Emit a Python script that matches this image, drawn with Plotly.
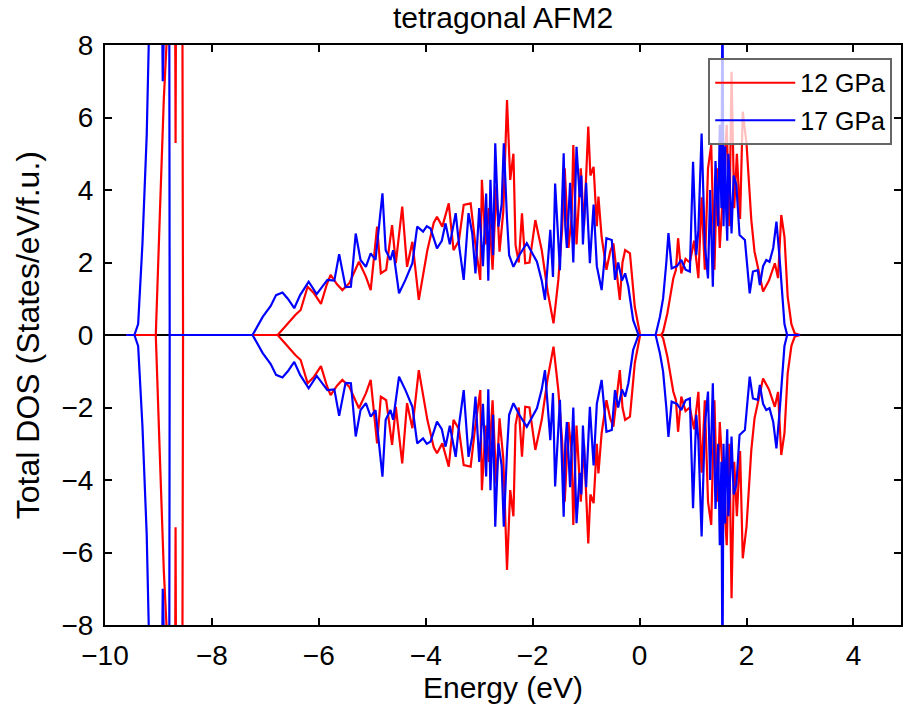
import plotly.graph_objects as go

# ---- data ----
# 17 GPa, spin-up total DOS
e17 = [-9.60, -9.45, -9.38, -9.30, -9.22, -9.17, -9.10, -9.00, -8.92, -8.88, -8.84, -8.80, -8.79,
       -8.60, -7.24, -7.05, -6.90, -6.80, -6.68, -6.58, -6.46, -6.35, -6.19, -6.04, -5.84, -5.71,
       -5.62, -5.50, -5.40, -5.31, -5.22, -5.12, -5.03, -4.94, -4.81, -4.75, -4.66, -4.61, -4.50,
       -4.38, -4.25, -4.16, -4.05, -3.98, -3.91, -3.79, -3.70, -3.63, -3.55, -3.44, -3.37, -3.29,
       -3.20, -3.13, -3.07, -3.00, -2.93, -2.87, -2.83, -2.79, -2.74, -2.70, -2.64, -2.58, -2.54,
       -2.48, -2.44, -2.36, -2.25, -2.11, -2.02, -1.92, -1.83, -1.77, -1.67, -1.62, -1.58, -1.49,
       -1.42, -1.39, -1.36, -1.30, -1.24, -1.18, -1.12, -1.09, -1.06, -1.00, -0.93, -0.86, -0.80,
       -0.71, -0.62, -0.52, -0.46, -0.40, -0.33, -0.27, -0.21, -0.12, -0.02, 0.30, 0.38, 0.44,
       0.50, 0.54, 0.60, 0.70, 0.78, 0.86, 0.94, 1.00, 1.06, 1.10, 1.16, 1.22, 1.28, 1.32, 1.37,
       1.42, 1.47, 1.50, 1.53, 1.55, 1.57, 1.60, 1.62, 1.64, 1.66, 1.68, 1.72, 1.76, 1.81, 1.87,
       1.97, 2.06, 2.12, 2.21, 2.25, 2.31, 2.37, 2.43, 2.50, 2.56, 2.62, 2.66, 2.71, 2.76, 3.00]
dos17 = [0.0, 0.0, 0.3, 2.5, 5.5, 8.0, 15.0, 20.0, 7.0, 12.0, 12.0, 12.0, 0.0,
         0.0, 0.0, 0.5, 0.8, 1.1, 1.17, 1.0, 0.74, 1.1, 1.47, 1.13, 1.52, 1.50,
         2.23, 1.32, 1.33, 2.80, 2.07, 1.88, 2.25, 2.07, 3.91, 2.34, 2.07, 2.34, 1.15,
         1.52, 1.98, 2.99, 2.85, 3.00, 2.94, 2.39, 2.60, 3.08, 2.50, 3.36, 2.40, 1.52,
         3.36, 2.80, 1.70, 3.50, 1.90, 3.90, 1.50, 4.28, 2.20, 5.29, 2.99, 3.60, 5.29,
         3.20, 2.20, 1.88, 2.20, 2.53, 2.30, 2.02, 1.50, 0.97, 2.90, 1.60, 4.18, 1.79,
         5.01, 3.00, 2.40, 4.20, 2.00, 5.19, 3.80, 4.40, 2.50, 4.20, 1.98, 3.60, 1.90,
         1.24, 2.67, 2.62, 1.52, 2.00, 1.50, 1.70, 1.33, 0.41, 0.0, 0.0, 0.50, 1.01,
         2.00, 2.81, 1.84, 1.90, 2.07, 1.80, 1.75, 4.78, 2.20, 2.90, 5.56, 2.50, 1.56, 4.00, 1.33,
         4.80, 3.00, 5.80, 3.50, 9.50, 3.00, 5.20, 3.40, 2.60, 5.00, 4.50, 2.80, 4.40, 4.14, 2.76,
         2.62, 1.15, 1.75, 1.79, 1.38, 1.90, 2.07, 2.02, 2.40, 3.13, 2.10, 1.20, 0.30, 0.0, 0.0]

# 12 GPa, spin-up total DOS
e12 = [-9.60, -9.15, -9.05, -8.97, -8.90, -8.85, -8.78, -8.70, -8.68, -8.66, -8.56, -8.54,
       -8.30, -6.77, -6.65, -6.55, -6.44, -6.34, -6.21, -6.09, -5.96, -5.85, -5.78, -5.66,
       -5.56, -5.43, -5.25, -5.12, -5.03, -4.91, -4.84, -4.74, -4.63, -4.56, -4.44, -4.35,
       -4.25, -4.13, -4.05, -3.97, -3.85, -3.79, -3.69, -3.57, -3.48, -3.38, -3.29, -3.16,
       -3.08, -2.98, -2.95, -2.88, -2.82, -2.75, -2.68, -2.62, -2.55, -2.48, -2.42, -2.36,
       -2.32, -2.26, -2.20, -2.14, -2.06, -1.95, -1.83, -1.72, -1.61, -1.52, -1.45, -1.40,
       -1.33, -1.27, -1.24, -1.18, -1.10, -1.04, -0.96, -0.92, -0.86, -0.80, -0.77, -0.71,
       -0.62, -0.55, -0.49, -0.43, -0.37, -0.32, -0.27, -0.18, -0.09, 0.01, 0.40, 0.44, 0.52,
       0.63, 0.68, 0.72, 0.78, 0.86, 0.94, 1.02, 1.10, 1.16, 1.22, 1.28, 1.34, 1.40, 1.45,
       1.50, 1.57, 1.63, 1.68, 1.72, 1.77, 1.82, 1.88, 1.93, 2.00, 2.06, 2.09, 2.15, 2.25,
       2.31, 2.42, 2.53, 2.59, 2.65, 2.71, 2.77, 2.84, 2.90, 3.00]
dos12 = [0.0, 0.0, 0.0, 3.5, 6.5, 8.0, 15.0, 15.0, 5.3, 15.0, 15.0, 0.0,
         0.0, 0.0, 0.20, 0.37, 0.55, 0.69, 1.33, 1.15, 0.86, 1.40, 1.66, 1.40,
         1.24, 1.43, 2.02, 1.61, 1.24, 2.99, 1.70, 1.80, 3.03, 1.98, 3.54, 1.88,
         2.57, 0.97, 1.60, 2.34, 3.10, 3.26, 2.99, 3.63, 2.34, 2.60, 3.59, 3.63,
         2.60, 1.52, 4.28, 2.50, 3.50, 1.80, 4.10, 2.30, 3.40, 6.48, 4.28, 5.00,
         2.48, 2.00, 3.36, 1.98, 2.00, 3.17, 2.34, 1.20, 0.32, 1.52, 2.90, 4.60,
         2.40, 3.30, 5.24, 2.50, 4.60, 3.00, 5.75, 4.40, 4.64, 3.00, 3.82, 2.71,
         1.80, 2.30, 2.53, 1.70, 0.97, 2.00, 2.34, 2.25, 0.78, 0.0, 0.0, 0.09, 0.60,
         1.56, 1.80, 2.67, 1.70, 2.10, 2.00, 2.60, 1.57, 3.80, 1.80, 4.60, 5.24, 1.80, 4.60,
         2.40, 4.20, 5.80, 3.00, 7.26, 3.50, 5.00, 3.20, 6.16, 5.29, 3.82, 3.17, 2.30, 1.60,
         1.20, 1.50, 1.98, 1.57, 3.31, 2.71, 1.06, 0.30, 0.05, 0.0]

series_names = ["12 GPa", "17 GPa"]
x_ticks = [-10, -8, -6, -4, -2, 0, 2, 4]
y_ticks = [-8, -6, -4, -2, 0, 2, 4, 6, 8]

RED = "#ff0000"
BLUE = "#0000ff"
FONT = "Liberation Sans, Arial, sans-serif"

fig = go.Figure()
for name, e, d, col in [(series_names[0], e12, dos12, RED), (series_names[1], e17, dos17, BLUE)]:
    fig.add_trace(go.Scatter(x=e, y=d, mode="lines", name=name, legendgroup=name,
                             line=dict(color=col, width=2.2)))
for name, e, d, col in [(series_names[0], e12, dos12, RED), (series_names[1], e17, dos17, BLUE)]:
    fig.add_trace(go.Scatter(x=e, y=[-v for v in d], mode="lines", name=name, legendgroup=name,
                             showlegend=False, line=dict(color=col, width=2.2)))

axis_common = dict(showline=True, linecolor="black", linewidth=2, mirror="ticks",
                   ticks="inside", ticklen=7, tickwidth=2, tickcolor="black",
                   showgrid=False, tickfont=dict(family=FONT, size=28, color="black"))

fig.update_layout(
    width=903, height=711,
    margin=dict(l=105, r=0, t=45, b=86),
    paper_bgcolor="white", plot_bgcolor="white",
    title=dict(text="tetragonal AFM2", x=0.5, xref="paper", xanchor="center",
               y=1 - 17 / 711, yref="container", yanchor="middle",
               font=dict(family=FONT, size=30, color="black")),
    xaxis=dict(range=[-10, 4.89], tickvals=x_ticks, zeroline=False, ticklabelstandoff=4,
               title=dict(text="Energy (eV)", font=dict(family=FONT, size=30, color="black"),
                          standoff=4),
               **axis_common),
    yaxis=dict(range=[-8, 8], tickvals=y_ticks, zeroline=True, zerolinecolor="black",
               zerolinewidth=2, ticklabelstandoff=4,
               **axis_common),
    annotations=[dict(text="Total DOS (States/eV/f.u.)", textangle=-90,
                      xref="paper", yref="paper", x=(28 - 105) / 798, y=0.5,
                      xanchor="center", yanchor="middle", showarrow=False,
                      font=dict(family=FONT, size=32, color="black"))],
    legend=dict(x=0.989, y=0.9776, xanchor="right", yanchor="top",
                bgcolor="rgba(255,255,255,0.75)", bordercolor="#666666", borderwidth=2,
                font=dict(family=FONT, size=25, color="black"),
                traceorder="grouped", tracegroupgap=2, itemwidth=80),
    showlegend=True,
)

fig.write_html("out.html")
